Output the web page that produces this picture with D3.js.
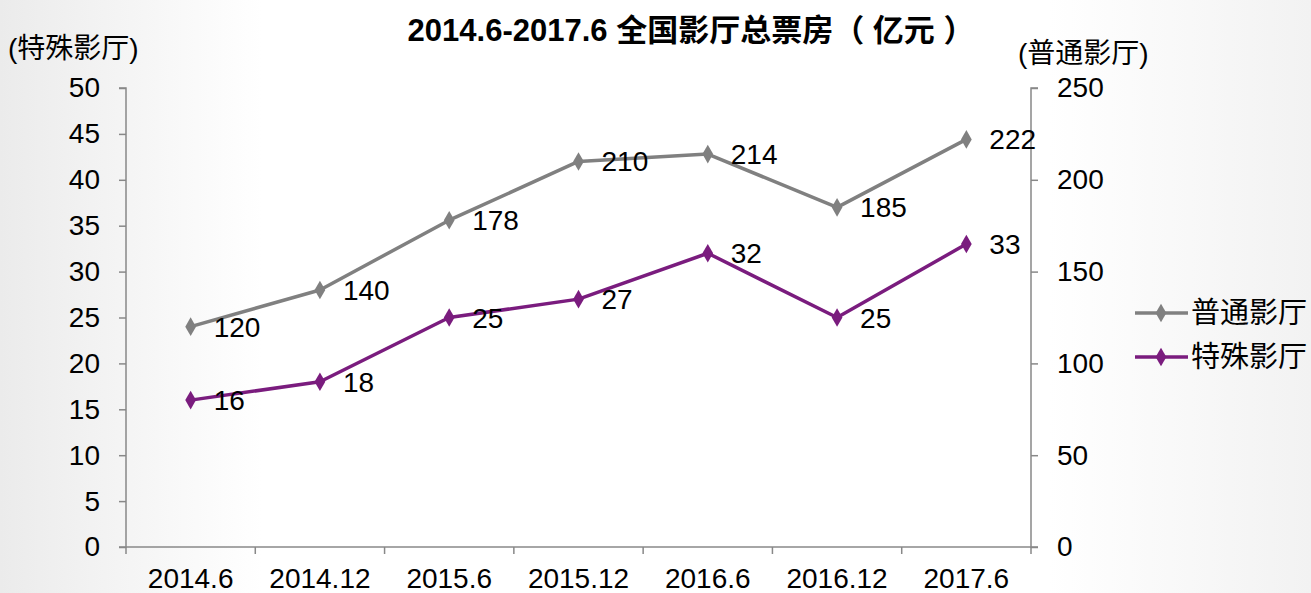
<!DOCTYPE html>
<html>
<head>
<meta charset="utf-8">
<script src="https://cdn.jsdelivr.net/npm/d3@7"></script>
<style>
  body { margin: 0; }
  svg text { font-family: "Liberation Sans", Arial, "Noto Sans CJK SC", sans-serif; }
</style>
</head>
<body>
<svg id="chart" width="1311" height="593"></svg>
<script>
const categories = ["2014.6", "2014.12", "2015.6", "2015.12", "2016.6", "2016.12", "2017.6"];
const normalValues = [120, 140, 178, 210, 214, 185, 222];   // 普通影厅, right axis
const specialValues = [16, 18, 25, 27, 32, 25, 33];          // 特殊影厅, left axis
const leftTicks = [0, 5, 10, 15, 20, 25, 30, 35, 40, 45, 50];
const rightTicks = [0, 50, 100, 150, 200, 250];

const width = 1311, height = 593;
const margin = { left: 126, right: 280, top: 88, bottom: 46 };
const x0 = margin.left, x1 = width - margin.right;   // 126 .. 1031
const yTop = margin.top, yBot = height - margin.bottom; // 88 .. 547
const fs = 28;

const svg = d3.select("#chart");

// background, light grey at the edges
const defs = svg.append("defs");
const bg = defs.append("linearGradient").attr("id", "bg")
    .attr("x1", "0%").attr("x2", "100%").attr("y1", "0%").attr("y2", "0%");
bg.append("stop").attr("offset", "0%").attr("stop-color", "#ebebeb");
bg.append("stop").attr("offset", "20%").attr("stop-color", "#ffffff");
bg.append("stop").attr("offset", "80%").attr("stop-color", "#ffffff");
bg.append("stop").attr("offset", "100%").attr("stop-color", "#f2f2f2");
svg.append("rect").attr("width", width).attr("height", height).attr("fill", "url(#bg)");

const x = d3.scaleBand().domain(categories).range([x0, x1]);
const yL = d3.scaleLinear().domain([0, 50]).range([yBot, yTop]);
const yR = d3.scaleLinear().domain([0, 250]).range([yBot, yTop]);

const axisColor = "#888";

// left axis
const gL = svg.append("g").attr("transform", `translate(${x0},0)`)
    .call(d3.axisLeft(yL).tickValues(leftTicks).tickSize(7).tickPadding(19));
// right axis
const gR = svg.append("g").attr("transform", `translate(${x1},0)`)
    .call(d3.axisRight(yR).tickValues(rightTicks).tickSize(7).tickPadding(19));
// bottom axis with ticks at band edges
const gB = svg.append("g").attr("transform", `translate(0,${yBot})`)
    .call(d3.axisBottom(x).tickSize(0).tickPadding(21));
const edges = categories.map(c => x(c)).concat([x1]);
gB.selectAll(".edge").data(edges).enter().append("line")
    .attr("x1", d => d).attr("x2", d => d).attr("y1", 0).attr("y2", 7)
    .attr("stroke", axisColor).attr("stroke-width", 1.5);

[gL, gR, gB].forEach(g => {
    g.select(".domain").attr("stroke", axisColor).attr("stroke-width", 1.5);
    g.selectAll(".tick line").attr("stroke", axisColor).attr("stroke-width", 1.5);
    g.selectAll("text").attr("font-size", fs).attr("fill", "#000");
});
gL.select(".domain").attr("d", `M-7,${yTop}H0V${yBot}H-7`);
gR.select(".domain").attr("d", `M7,${yTop}H0V${yBot}H7`);
gB.select(".domain").attr("d", `M${x0},0H${x1}`);

// title and axis names
svg.append("text").attr("x", 691).attr("y", 41).attr("text-anchor", "middle")
    .attr("font-size", 31).attr("font-weight", "bold")
    .text("2014.6-2017.6 全国影厅总票房（ 亿元 ）");
svg.append("text").attr("x", 8).attr("y", 58).attr("font-size", fs).text("(特殊影厅)");
svg.append("text").attr("x", 1018).attr("y", 63).attr("font-size", fs).text("(普通影厅)");

const cx = c => x(c) + x.bandwidth() / 2;
const diamond = d3.symbol().type(d3.symbolDiamond).size(100);

function drawSeries(values, yScale, color) {
    const line = d3.line().x((d, i) => cx(categories[i])).y(d => yScale(d));
    svg.append("path").datum(values).attr("d", line)
        .attr("fill", "none").attr("stroke", color).attr("stroke-width", 3.5)
        .attr("stroke-linejoin", "round");
    svg.selectAll(null).data(values).enter().append("path")
        .attr("d", diamond)
        .attr("transform", (d, i) => `translate(${cx(categories[i])},${yScale(d)})`)
        .attr("fill", color);
    svg.selectAll(null).data(values).enter().append("text")
        .attr("x", (d, i) => cx(categories[i]) + 23)
        .attr("y", d => yScale(d) + 10)
        .attr("font-size", fs).attr("fill", "#000")
        .text(d => d);
}

const gray = "#808080", purple = "#7a1c7e";
drawSeries(normalValues, yR, gray);
drawSeries(specialValues, yL, purple);

// legend
const legend = [{ name: "普通影厅", color: gray, y: 313 }, { name: "特殊影厅", color: purple, y: 357 }];
legend.forEach(l => {
    svg.append("line").attr("x1", 1135).attr("x2", 1188).attr("y1", l.y).attr("y2", l.y)
        .attr("stroke", l.color).attr("stroke-width", 3.5);
    svg.append("path").attr("d", diamond).attr("transform", `translate(1161,${l.y})`).attr("fill", l.color);
    svg.append("text").attr("x", 1191).attr("y", l.y + 10).attr("font-size", 29).text(l.name);
});
</script>
</body>
</html>
